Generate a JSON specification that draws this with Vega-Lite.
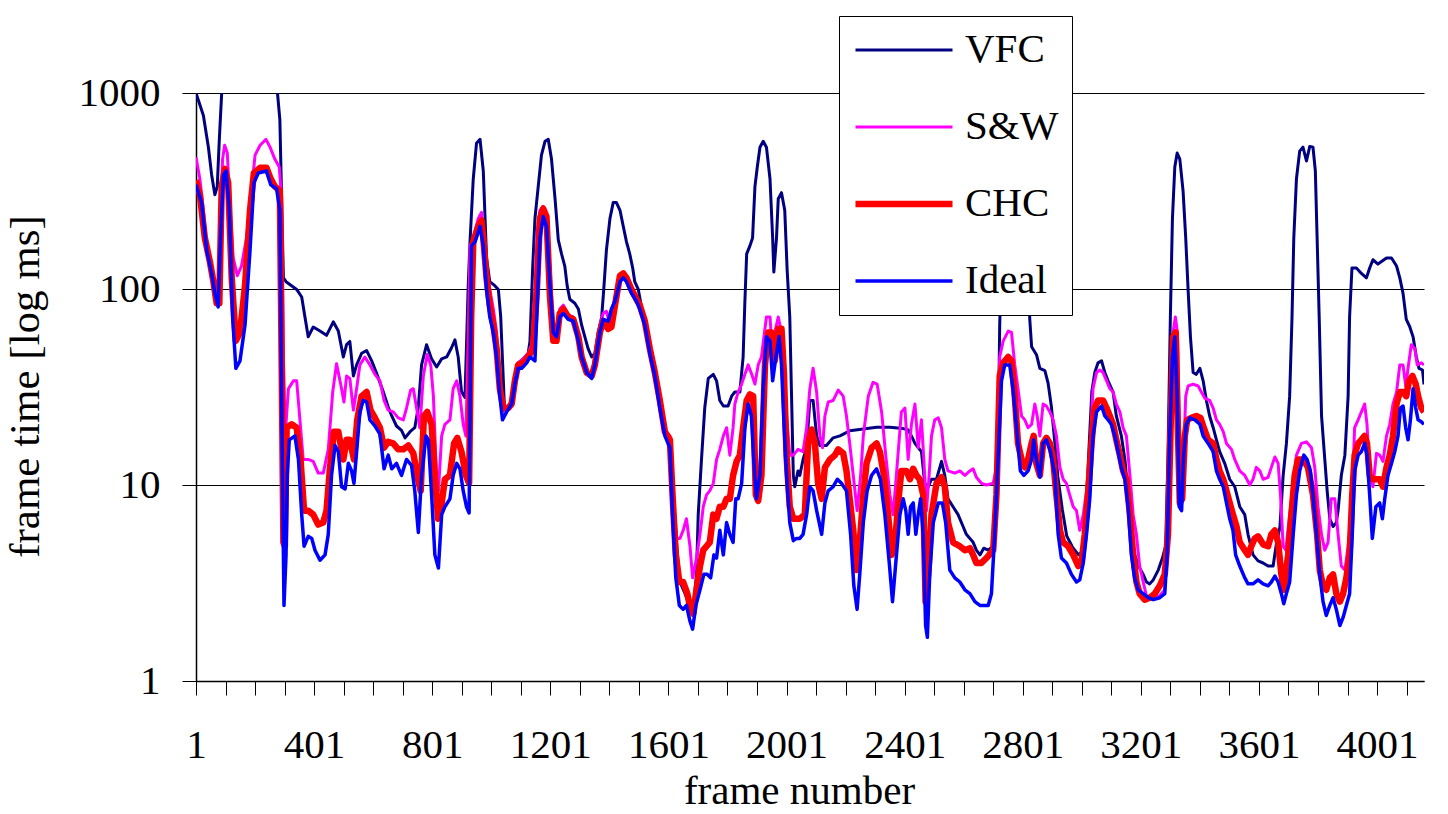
{
"$schema":"https://vega.github.io/schema/vega-lite/v6.json",
"width":1228,"height":588,
"autosize":{"type":"none"},
"padding":{"left":196,"top":93,"right":24,"bottom":133},
"background":"white",
"config":{"view":{"stroke":null},"font":"Liberation Serif"},
"data":{"values":[
{"series":"VFC","frame":1,"ms":1000},{"series":"VFC","frame":26,"ms":767},{"series":"VFC","frame":43,"ms":529},{"series":"VFC","frame":54,"ms":382},{"series":"VFC","frame":65,"ms":303},{"series":"VFC","frame":73,"ms":333},{"series":"VFC","frame":80,"ms":580},{"series":"VFC","frame":88,"ms":1000},{"series":"VFC","frame":96,"ms":2000},{"series":"VFC","frame":180,"ms":2500},{"series":"VFC","frame":260,"ms":2500},{"series":"VFC","frame":277,"ms":1000},{"series":"VFC","frame":285,"ms":732},{"series":"VFC","frame":291,"ms":289},{"series":"VFC","frame":297,"ms":114},{"series":"VFC","frame":306,"ms":109},{"series":"VFC","frame":342,"ms":99.5},{"series":"VFC","frame":359,"ms":91},{"series":"VFC","frame":370,"ms":72},{"series":"VFC","frame":381,"ms":57},{"series":"VFC","frame":398,"ms":64},{"series":"VFC","frame":421,"ms":61},{"series":"VFC","frame":443,"ms":58},{"series":"VFC","frame":466,"ms":68},{"series":"VFC","frame":483,"ms":61},{"series":"VFC","frame":500,"ms":45},{"series":"VFC","frame":511,"ms":52},{"series":"VFC","frame":522,"ms":54},{"series":"VFC","frame":534,"ms":36},{"series":"VFC","frame":545,"ms":41},{"series":"VFC","frame":562,"ms":47},{"series":"VFC","frame":579,"ms":48.5},{"series":"VFC","frame":596,"ms":43},{"series":"VFC","frame":613,"ms":37},{"series":"VFC","frame":635,"ms":30},{"series":"VFC","frame":652,"ms":25},{"series":"VFC","frame":664,"ms":22.5},{"series":"VFC","frame":680,"ms":20},{"series":"VFC","frame":697,"ms":19},{"series":"VFC","frame":709,"ms":17.4},{"series":"VFC","frame":726,"ms":18.7},{"series":"VFC","frame":742,"ms":19.6},{"series":"VFC","frame":754,"ms":25},{"series":"VFC","frame":765,"ms":41},{"series":"VFC","frame":782,"ms":52},{"series":"VFC","frame":799,"ms":44},{"series":"VFC","frame":816,"ms":40},{"series":"VFC","frame":833,"ms":44},{"series":"VFC","frame":850,"ms":45},{"series":"VFC","frame":866,"ms":50},{"series":"VFC","frame":878,"ms":55},{"series":"VFC","frame":889,"ms":45},{"series":"VFC","frame":900,"ms":30},{"series":"VFC","frame":912,"ms":28},{"series":"VFC","frame":923,"ms":104},{"series":"VFC","frame":929,"ms":174},{"series":"VFC","frame":940,"ms":365},{"series":"VFC","frame":951,"ms":554},{"series":"VFC","frame":963,"ms":580},{"series":"VFC","frame":974,"ms":400},{"series":"VFC","frame":985,"ms":144},{"series":"VFC","frame":996,"ms":109},{"series":"VFC","frame":1013,"ms":104},{"series":"VFC","frame":1025,"ms":99.5},{"series":"VFC","frame":1033,"ms":72},{"series":"VFC","frame":1040,"ms":40},{"series":"VFC","frame":1046,"ms":24},{"series":"VFC","frame":1053,"ms":24.5},{"series":"VFC","frame":1070,"ms":26.5},{"series":"VFC","frame":1081,"ms":34},{"series":"VFC","frame":1092,"ms":42},{"series":"VFC","frame":1109,"ms":44},{"series":"VFC","frame":1126,"ms":47},{"series":"VFC","frame":1132,"ms":54},{"series":"VFC","frame":1141,"ms":126},{"series":"VFC","frame":1149,"ms":229},{"series":"VFC","frame":1160,"ms":333},{"series":"VFC","frame":1171,"ms":482},{"series":"VFC","frame":1183,"ms":567},{"series":"VFC","frame":1194,"ms":580},{"series":"VFC","frame":1205,"ms":460},{"series":"VFC","frame":1217,"ms":289},{"series":"VFC","frame":1228,"ms":178},{"series":"VFC","frame":1239,"ms":151},{"series":"VFC","frame":1250,"ms":131},{"series":"VFC","frame":1258,"ms":104},{"series":"VFC","frame":1267,"ms":88.6},{"series":"VFC","frame":1284,"ms":84.6},{"series":"VFC","frame":1296,"ms":79},{"series":"VFC","frame":1307,"ms":65.5},{"series":"VFC","frame":1318,"ms":57},{"series":"VFC","frame":1329,"ms":49.6},{"series":"VFC","frame":1341,"ms":45},{"series":"VFC","frame":1352,"ms":47},{"series":"VFC","frame":1363,"ms":60},{"series":"VFC","frame":1375,"ms":72},{"series":"VFC","frame":1382,"ms":99.5},{"series":"VFC","frame":1391,"ms":158},{"series":"VFC","frame":1403,"ms":229},{"series":"VFC","frame":1414,"ms":276},{"series":"VFC","frame":1425,"ms":276},{"series":"VFC","frame":1437,"ms":252},{"series":"VFC","frame":1448,"ms":209},{"series":"VFC","frame":1459,"ms":174},{"series":"VFC","frame":1470,"ms":151},{"series":"VFC","frame":1480,"ms":128},{"series":"VFC","frame":1487,"ms":109},{"series":"VFC","frame":1499,"ms":99.5},{"series":"VFC","frame":1516,"ms":72},{"series":"VFC","frame":1538,"ms":49.6},{"series":"VFC","frame":1555,"ms":37.5},{"series":"VFC","frame":1572,"ms":27},{"series":"VFC","frame":1589,"ms":19.6},{"series":"VFC","frame":1606,"ms":17},{"series":"VFC","frame":1617,"ms":8.9},{"series":"VFC","frame":1629,"ms":4.9},{"series":"VFC","frame":1640,"ms":3.2},{"series":"VFC","frame":1657,"ms":2.8},{"series":"VFC","frame":1674,"ms":2.4},{"series":"VFC","frame":1685,"ms":2.3},{"series":"VFC","frame":1696,"ms":3.5},{"series":"VFC","frame":1702,"ms":7.1},{"series":"VFC","frame":1713,"ms":13.5},{"series":"VFC","frame":1724,"ms":24.7},{"series":"VFC","frame":1736,"ms":35},{"series":"VFC","frame":1753,"ms":36.7},{"series":"VFC","frame":1764,"ms":34},{"series":"VFC","frame":1775,"ms":27},{"series":"VFC","frame":1787,"ms":25.3},{"series":"VFC","frame":1803,"ms":25.3},{"series":"VFC","frame":1815,"ms":28.4},{"series":"VFC","frame":1826,"ms":29.8},{"series":"VFC","frame":1843,"ms":29.8},{"series":"VFC","frame":1854,"ms":45},{"series":"VFC","frame":1860,"ms":86.6},{"series":"VFC","frame":1866,"ms":151},{"series":"VFC","frame":1877,"ms":166},{"series":"VFC","frame":1886,"ms":182},{"series":"VFC","frame":1894,"ms":333},{"series":"VFC","frame":1902,"ms":419},{"series":"VFC","frame":1911,"ms":529},{"series":"VFC","frame":1922,"ms":567},{"series":"VFC","frame":1933,"ms":529},{"series":"VFC","frame":1945,"ms":365},{"series":"VFC","frame":1954,"ms":182},{"series":"VFC","frame":1958,"ms":122},{"series":"VFC","frame":1967,"ms":182},{"series":"VFC","frame":1973,"ms":289},{"series":"VFC","frame":1984,"ms":310},{"series":"VFC","frame":1995,"ms":252},{"series":"VFC","frame":2003,"ms":126},{"series":"VFC","frame":2012,"ms":72},{"series":"VFC","frame":2018,"ms":28.4},{"series":"VFC","frame":2024,"ms":11.2},{"series":"VFC","frame":2029,"ms":9.8},{"series":"VFC","frame":2040,"ms":11.8},{"series":"VFC","frame":2046,"ms":11.2},{"series":"VFC","frame":2057,"ms":13.5},{"series":"VFC","frame":2069,"ms":15.5},{"series":"VFC","frame":2080,"ms":27},{"series":"VFC","frame":2091,"ms":27},{"series":"VFC","frame":2103,"ms":17.8},{"series":"VFC","frame":2114,"ms":15.9},{"series":"VFC","frame":2136,"ms":15.9},{"series":"VFC","frame":2159,"ms":17.4},{"series":"VFC","frame":2182,"ms":17.8},{"series":"VFC","frame":2215,"ms":18.9},{"series":"VFC","frame":2261,"ms":19.3},{"series":"VFC","frame":2306,"ms":19.7},{"series":"VFC","frame":2351,"ms":19.7},{"series":"VFC","frame":2396,"ms":19.4},{"series":"VFC","frame":2413,"ms":19.1},{"series":"VFC","frame":2424,"ms":17.8},{"series":"VFC","frame":2436,"ms":16.3},{"series":"VFC","frame":2447,"ms":15.5},{"series":"VFC","frame":2458,"ms":14.8},{"series":"VFC","frame":2469,"ms":10.2},{"series":"VFC","frame":2481,"ms":9.8},{"series":"VFC","frame":2492,"ms":10.7},{"series":"VFC","frame":2509,"ms":10.7},{"series":"VFC","frame":2526,"ms":13.2},{"series":"VFC","frame":2537,"ms":11.2},{"series":"VFC","frame":2548,"ms":8.5},{"series":"VFC","frame":2565,"ms":7.75},{"series":"VFC","frame":2582,"ms":7.06},{"series":"VFC","frame":2599,"ms":6.14},{"series":"VFC","frame":2610,"ms":5.6},{"series":"VFC","frame":2622,"ms":5.34},{"series":"VFC","frame":2633,"ms":5.1},{"series":"VFC","frame":2644,"ms":4.65},{"series":"VFC","frame":2656,"ms":4.4},{"series":"VFC","frame":2669,"ms":4.76},{"series":"VFC","frame":2684,"ms":4.65},{"series":"VFC","frame":2701,"ms":4.87},{"series":"VFC","frame":2712,"ms":7.06},{"series":"VFC","frame":2718,"ms":17.8},{"series":"VFC","frame":2723,"ms":65.5},{"series":"VFC","frame":2730,"ms":150},{"series":"VFC","frame":2760,"ms":300},{"series":"VFC","frame":2800,"ms":250},{"series":"VFC","frame":2820,"ms":100},{"series":"VFC","frame":2825,"ms":69.5},{"series":"VFC","frame":2831,"ms":50.8},{"series":"VFC","frame":2848,"ms":46},{"series":"VFC","frame":2859,"ms":39.4},{"series":"VFC","frame":2876,"ms":38.3},{"series":"VFC","frame":2887,"ms":33},{"series":"VFC","frame":2898,"ms":25.1},{"series":"VFC","frame":2910,"ms":16.3},{"series":"VFC","frame":2920,"ms":11},{"series":"VFC","frame":2935,"ms":7.5},{"series":"VFC","frame":2950,"ms":5.5},{"series":"VFC","frame":2970,"ms":4.8},{"series":"VFC","frame":2990,"ms":4.4},{"series":"VFC","frame":3005,"ms":4.6},{"series":"VFC","frame":3015,"ms":7},{"series":"VFC","frame":3025,"ms":15},{"series":"VFC","frame":3035,"ms":30},{"series":"VFC","frame":3045,"ms":37.5},{"series":"VFC","frame":3056,"ms":42},{"series":"VFC","frame":3068,"ms":43},{"series":"VFC","frame":3079,"ms":37.5},{"series":"VFC","frame":3090,"ms":34},{"series":"VFC","frame":3107,"ms":29.8},{"series":"VFC","frame":3118,"ms":22.5},{"series":"VFC","frame":3135,"ms":17.8},{"series":"VFC","frame":3147,"ms":13.5},{"series":"VFC","frame":3158,"ms":8.9},{"series":"VFC","frame":3169,"ms":5.6},{"series":"VFC","frame":3180,"ms":4.4},{"series":"VFC","frame":3197,"ms":3.77},{"series":"VFC","frame":3209,"ms":3.5},{"series":"VFC","frame":3220,"ms":3.2},{"series":"VFC","frame":3231,"ms":3.13},{"series":"VFC","frame":3243,"ms":3.28},{"series":"VFC","frame":3260,"ms":3.68},{"series":"VFC","frame":3274,"ms":4.24},{"series":"VFC","frame":3285,"ms":4.87},{"series":"VFC","frame":3293,"ms":14.2},{"series":"VFC","frame":3301,"ms":72},{"series":"VFC","frame":3308,"ms":229},{"series":"VFC","frame":3316,"ms":419},{"series":"VFC","frame":3324,"ms":494},{"series":"VFC","frame":3333,"ms":460},{"series":"VFC","frame":3344,"ms":317},{"series":"VFC","frame":3353,"ms":182},{"series":"VFC","frame":3361,"ms":99.5},{"series":"VFC","frame":3369,"ms":57},{"series":"VFC","frame":3378,"ms":37.5},{"series":"VFC","frame":3389,"ms":36.7},{"series":"VFC","frame":3401,"ms":39.4},{"series":"VFC","frame":3412,"ms":34},{"series":"VFC","frame":3423,"ms":27},{"series":"VFC","frame":3434,"ms":22.5},{"series":"VFC","frame":3446,"ms":19.6},{"series":"VFC","frame":3457,"ms":17},{"series":"VFC","frame":3468,"ms":14.8},{"series":"VFC","frame":3485,"ms":12.9},{"series":"VFC","frame":3502,"ms":10.7},{"series":"VFC","frame":3519,"ms":9.8},{"series":"VFC","frame":3536,"ms":7.75},{"series":"VFC","frame":3553,"ms":7.06},{"series":"VFC","frame":3564,"ms":5.6},{"series":"VFC","frame":3581,"ms":4.4},{"series":"VFC","frame":3598,"ms":4.1},{"series":"VFC","frame":3615,"ms":4.0},{"series":"VFC","frame":3632,"ms":3.86},{"series":"VFC","frame":3649,"ms":3.86},{"series":"VFC","frame":3660,"ms":5.0},{"series":"VFC","frame":3672,"ms":6.1},{"series":"VFC","frame":3683,"ms":11.2},{"series":"VFC","frame":3694,"ms":16.3},{"series":"VFC","frame":3705,"ms":28.4},{"series":"VFC","frame":3713,"ms":72},{"series":"VFC","frame":3719,"ms":182},{"series":"VFC","frame":3728,"ms":365},{"series":"VFC","frame":3739,"ms":505},{"series":"VFC","frame":3750,"ms":529},{"series":"VFC","frame":3762,"ms":450},{"series":"VFC","frame":3773,"ms":534},{"series":"VFC","frame":3784,"ms":529},{"series":"VFC","frame":3792,"ms":400},{"series":"VFC","frame":3798,"ms":182},{"series":"VFC","frame":3805,"ms":72},{"series":"VFC","frame":3813,"ms":22.5},{"series":"VFC","frame":3824,"ms":13.5},{"series":"VFC","frame":3832,"ms":9.33},{"series":"VFC","frame":3841,"ms":6.73},{"series":"VFC","frame":3852,"ms":6.14},{"series":"VFC","frame":3863,"ms":6.43},{"series":"VFC","frame":3869,"ms":7.4},{"series":"VFC","frame":3880,"ms":11.2},{"series":"VFC","frame":3892,"ms":14.2},{"series":"VFC","frame":3903,"ms":28.4},{"series":"VFC","frame":3908,"ms":72},{"series":"VFC","frame":3916,"ms":128},{"series":"VFC","frame":3931,"ms":128},{"series":"VFC","frame":3948,"ms":120},{"series":"VFC","frame":3965,"ms":114},{"series":"VFC","frame":3976,"ms":128},{"series":"VFC","frame":3987,"ms":141},{"series":"VFC","frame":4004,"ms":134},{"series":"VFC","frame":4016,"ms":138},{"series":"VFC","frame":4033,"ms":144},{"series":"VFC","frame":4050,"ms":144},{"series":"VFC","frame":4067,"ms":131},{"series":"VFC","frame":4078,"ms":114},{"series":"VFC","frame":4089,"ms":95},{"series":"VFC","frame":4100,"ms":70},{"series":"VFC","frame":4112,"ms":64},{"series":"VFC","frame":4123,"ms":57},{"series":"VFC","frame":4134,"ms":45},{"series":"VFC","frame":4143,"ms":39.4},{"series":"VFC","frame":4155,"ms":38.6},{"series":"VFC","frame":4160,"ms":32.6},
{"series":"S&W","frame":1,"ms":470},{"series":"S&W","frame":14,"ms":365},{"series":"S&W","frame":26,"ms":252},{"series":"S&W","frame":37,"ms":166},{"series":"S&W","frame":54,"ms":131},{"series":"S&W","frame":65,"ms":95},{"series":"S&W","frame":76,"ms":84.6},{"series":"S&W","frame":84,"ms":229},{"series":"S&W","frame":91,"ms":460},{"series":"S&W","frame":98,"ms":541},{"series":"S&W","frame":107,"ms":494},{"series":"S&W","frame":116,"ms":264},{"series":"S&W","frame":127,"ms":144},{"series":"S&W","frame":141,"ms":117},{"series":"S&W","frame":155,"ms":131},{"series":"S&W","frame":172,"ms":182},{"series":"S&W","frame":189,"ms":317},{"series":"S&W","frame":201,"ms":482},{"series":"S&W","frame":218,"ms":541},{"series":"S&W","frame":238,"ms":580},{"series":"S&W","frame":252,"ms":529},{"series":"S&W","frame":268,"ms":460},{"series":"S&W","frame":283,"ms":419},{"series":"S&W","frame":291,"ms":289},{"series":"S&W","frame":297,"ms":45},{"series":"S&W","frame":303,"ms":17.8},{"series":"S&W","frame":314,"ms":31},{"series":"S&W","frame":331,"ms":34},{"series":"S&W","frame":342,"ms":34},{"series":"S&W","frame":353,"ms":21.5},{"series":"S&W","frame":364,"ms":13.5},{"series":"S&W","frame":381,"ms":13.5},{"series":"S&W","frame":398,"ms":13.2},{"series":"S&W","frame":415,"ms":11.5},{"series":"S&W","frame":432,"ms":11.5},{"series":"S&W","frame":449,"ms":15.2},{"series":"S&W","frame":464,"ms":29.8},{"series":"S&W","frame":477,"ms":41.6},{"series":"S&W","frame":494,"ms":31},{"series":"S&W","frame":502,"ms":26.5},{"series":"S&W","frame":511,"ms":36},{"series":"S&W","frame":522,"ms":35},{"series":"S&W","frame":534,"ms":24.1},{"series":"S&W","frame":545,"ms":31},{"series":"S&W","frame":556,"ms":41},{"series":"S&W","frame":573,"ms":45},{"series":"S&W","frame":590,"ms":41},{"series":"S&W","frame":607,"ms":36.7},{"series":"S&W","frame":624,"ms":34},{"series":"S&W","frame":638,"ms":27},{"series":"S&W","frame":652,"ms":24.1},{"series":"S&W","frame":669,"ms":23.6},{"series":"S&W","frame":686,"ms":22},{"series":"S&W","frame":703,"ms":21.5},{"series":"S&W","frame":714,"ms":24.7},{"series":"S&W","frame":728,"ms":30.5},{"series":"S&W","frame":737,"ms":31},{"series":"S&W","frame":748,"ms":24.7},{"series":"S&W","frame":759,"ms":19.6},{"series":"S&W","frame":771,"ms":36},{"series":"S&W","frame":784,"ms":46.3},{"series":"S&W","frame":796,"ms":41},{"series":"S&W","frame":805,"ms":28.4},{"series":"S&W","frame":816,"ms":10.7},{"series":"S&W","frame":822,"ms":9.33},{"series":"S&W","frame":833,"ms":17.8},{"series":"S&W","frame":844,"ms":20.4},{"series":"S&W","frame":861,"ms":21.5},{"series":"S&W","frame":872,"ms":31},{"series":"S&W","frame":884,"ms":34},{"series":"S&W","frame":895,"ms":28.4},{"series":"S&W","frame":906,"ms":20.4},{"series":"S&W","frame":915,"ms":17.8},{"series":"S&W","frame":923,"ms":57},{"series":"S&W","frame":929,"ms":166},{"series":"S&W","frame":940,"ms":182},{"series":"S&W","frame":957,"ms":229},{"series":"S&W","frame":968,"ms":246},{"series":"S&W","frame":974,"ms":200},{"series":"S&W","frame":985,"ms":131},{"series":"S&W","frame":996,"ms":99.5},{"series":"S&W","frame":1008,"ms":79},{"series":"S&W","frame":1019,"ms":60},{"series":"S&W","frame":1030,"ms":32.7},{"series":"S&W","frame":1039,"ms":23.6},{"series":"S&W","frame":1053,"ms":24.7},{"series":"S&W","frame":1070,"ms":27},{"series":"S&W","frame":1081,"ms":34},{"series":"S&W","frame":1092,"ms":42},{"series":"S&W","frame":1109,"ms":44},{"series":"S&W","frame":1126,"ms":47},{"series":"S&W","frame":1138,"ms":52},{"series":"S&W","frame":1149,"ms":99.5},{"series":"S&W","frame":1157,"ms":200},{"series":"S&W","frame":1166,"ms":252},{"series":"S&W","frame":1177,"ms":264},{"series":"S&W","frame":1188,"ms":229},{"series":"S&W","frame":1200,"ms":126},{"series":"S&W","frame":1211,"ms":65.5},{"series":"S&W","frame":1222,"ms":60},{"series":"S&W","frame":1233,"ms":79},{"series":"S&W","frame":1245,"ms":82.7},{"series":"S&W","frame":1262,"ms":73.6},{"series":"S&W","frame":1279,"ms":72},{"series":"S&W","frame":1296,"ms":57},{"series":"S&W","frame":1307,"ms":46.3},{"series":"S&W","frame":1324,"ms":37.5},{"series":"S&W","frame":1341,"ms":36},{"series":"S&W","frame":1352,"ms":45},{"series":"S&W","frame":1369,"ms":65.5},{"series":"S&W","frame":1380,"ms":75},{"series":"S&W","frame":1391,"ms":77},{"series":"S&W","frame":1403,"ms":65.5},{"series":"S&W","frame":1414,"ms":82.7},{"series":"S&W","frame":1425,"ms":86.6},{"series":"S&W","frame":1437,"ms":114},{"series":"S&W","frame":1448,"ms":120},{"series":"S&W","frame":1459,"ms":114},{"series":"S&W","frame":1476,"ms":99.5},{"series":"S&W","frame":1493,"ms":88.6},{"series":"S&W","frame":1504,"ms":82.7},{"series":"S&W","frame":1521,"ms":68.6},{"series":"S&W","frame":1538,"ms":49.6},{"series":"S&W","frame":1555,"ms":37.5},{"series":"S&W","frame":1572,"ms":25.9},{"series":"S&W","frame":1589,"ms":18.7},{"series":"S&W","frame":1606,"ms":17.8},{"series":"S&W","frame":1617,"ms":8.9},{"series":"S&W","frame":1629,"ms":5.34},{"series":"S&W","frame":1640,"ms":5.34},{"series":"S&W","frame":1651,"ms":5.87},{"series":"S&W","frame":1662,"ms":6.73},{"series":"S&W","frame":1674,"ms":4.87},{"series":"S&W","frame":1683,"ms":3.36},{"series":"S&W","frame":1696,"ms":4.23},{"series":"S&W","frame":1708,"ms":5.6},{"series":"S&W","frame":1719,"ms":7.75},{"series":"S&W","frame":1730,"ms":8.9},{"series":"S&W","frame":1741,"ms":9.33},{"series":"S&W","frame":1753,"ms":10.2},{"series":"S&W","frame":1764,"ms":13.5},{"series":"S&W","frame":1775,"ms":15.2},{"series":"S&W","frame":1787,"ms":17.8},{"series":"S&W","frame":1798,"ms":19.6},{"series":"S&W","frame":1809,"ms":14.2},{"series":"S&W","frame":1820,"ms":19.6},{"series":"S&W","frame":1826,"ms":25.9},{"series":"S&W","frame":1837,"ms":29.8},{"series":"S&W","frame":1849,"ms":32.7},{"series":"S&W","frame":1860,"ms":36.7},{"series":"S&W","frame":1871,"ms":41},{"series":"S&W","frame":1883,"ms":36.7},{"series":"S&W","frame":1894,"ms":32.7},{"series":"S&W","frame":1905,"ms":41},{"series":"S&W","frame":1916,"ms":45},{"series":"S&W","frame":1933,"ms":72},{"series":"S&W","frame":1945,"ms":72},{"series":"S&W","frame":1954,"ms":45},{"series":"S&W","frame":1961,"ms":60},{"series":"S&W","frame":1973,"ms":72},{"series":"S&W","frame":1984,"ms":60},{"series":"S&W","frame":1992,"ms":41},{"series":"S&W","frame":2001,"ms":22.5},{"series":"S&W","frame":2012,"ms":14.2},{"series":"S&W","frame":2024,"ms":14.2},{"series":"S&W","frame":2040,"ms":15.2},{"series":"S&W","frame":2057,"ms":14.8},{"series":"S&W","frame":2069,"ms":19.6},{"series":"S&W","frame":2080,"ms":31},{"series":"S&W","frame":2091,"ms":39.4},{"series":"S&W","frame":2103,"ms":29.8},{"series":"S&W","frame":2114,"ms":17.8},{"series":"S&W","frame":2123,"ms":15.5},{"series":"S&W","frame":2131,"ms":22.5},{"series":"S&W","frame":2142,"ms":26.5},{"series":"S&W","frame":2159,"ms":27},{"series":"S&W","frame":2176,"ms":30.5},{"series":"S&W","frame":2193,"ms":28.4},{"series":"S&W","frame":2204,"ms":22.5},{"series":"S&W","frame":2215,"ms":16.3},{"series":"S&W","frame":2227,"ms":11.2},{"series":"S&W","frame":2240,"ms":7.4},{"series":"S&W","frame":2252,"ms":11.2},{"series":"S&W","frame":2261,"ms":17.8},{"series":"S&W","frame":2278,"ms":28.4},{"series":"S&W","frame":2294,"ms":33.4},{"series":"S&W","frame":2308,"ms":32.7},{"series":"S&W","frame":2323,"ms":23.6},{"series":"S&W","frame":2337,"ms":14.2},{"series":"S&W","frame":2351,"ms":8.9},{"series":"S&W","frame":2362,"ms":7.06},{"series":"S&W","frame":2373,"ms":11.2},{"series":"S&W","frame":2390,"ms":23.6},{"series":"S&W","frame":2402,"ms":24.7},{"series":"S&W","frame":2413,"ms":13.5},{"series":"S&W","frame":2424,"ms":20.4},{"series":"S&W","frame":2436,"ms":25.9},{"series":"S&W","frame":2447,"ms":15.5},{"series":"S&W","frame":2458,"ms":21.5},{"series":"S&W","frame":2466,"ms":13.5},{"series":"S&W","frame":2475,"ms":7.4},{"series":"S&W","frame":2484,"ms":11.2},{"series":"S&W","frame":2492,"ms":17.8},{"series":"S&W","frame":2503,"ms":21.5},{"series":"S&W","frame":2515,"ms":22},{"series":"S&W","frame":2526,"ms":19.6},{"series":"S&W","frame":2537,"ms":13.5},{"series":"S&W","frame":2548,"ms":11.8},{"series":"S&W","frame":2571,"ms":11.5},{"series":"S&W","frame":2588,"ms":11.8},{"series":"S&W","frame":2605,"ms":11.2},{"series":"S&W","frame":2622,"ms":11.8},{"series":"S&W","frame":2633,"ms":12.1},{"series":"S&W","frame":2644,"ms":10.95},{"series":"S&W","frame":2661,"ms":10.2},{"series":"S&W","frame":2678,"ms":10},{"series":"S&W","frame":2701,"ms":10.2},{"series":"S&W","frame":2712,"ms":12.3},{"series":"S&W","frame":2723,"ms":45},{"series":"S&W","frame":2735,"ms":54.4},{"series":"S&W","frame":2752,"ms":61},{"series":"S&W","frame":2763,"ms":60},{"series":"S&W","frame":2774,"ms":41},{"series":"S&W","frame":2785,"ms":31},{"series":"S&W","frame":2797,"ms":22.5},{"series":"S&W","frame":2808,"ms":21.5},{"series":"S&W","frame":2819,"ms":19.6},{"series":"S&W","frame":2831,"ms":20.4},{"series":"S&W","frame":2842,"ms":25.9},{"series":"S&W","frame":2850,"ms":22.5},{"series":"S&W","frame":2859,"ms":17.8},{"series":"S&W","frame":2870,"ms":25.9},{"series":"S&W","frame":2881,"ms":25.3},{"series":"S&W","frame":2893,"ms":23.6},{"series":"S&W","frame":2904,"ms":21.5},{"series":"S&W","frame":2915,"ms":17.8},{"series":"S&W","frame":2927,"ms":12.3},{"series":"S&W","frame":2938,"ms":10.7},{"series":"S&W","frame":2949,"ms":10.2},{"series":"S&W","frame":2960,"ms":8.9},{"series":"S&W","frame":2972,"ms":7.75},{"series":"S&W","frame":2983,"ms":7.4},{"series":"S&W","frame":2994,"ms":5.87},{"series":"S&W","frame":3006,"ms":7.06},{"series":"S&W","frame":3017,"ms":9.33},{"series":"S&W","frame":3028,"ms":14.2},{"series":"S&W","frame":3039,"ms":31},{"series":"S&W","frame":3051,"ms":37.5},{"series":"S&W","frame":3062,"ms":38.6},{"series":"S&W","frame":3073,"ms":37.5},{"series":"S&W","frame":3085,"ms":34},{"series":"S&W","frame":3096,"ms":31},{"series":"S&W","frame":3107,"ms":29.8},{"series":"S&W","frame":3118,"ms":25.9},{"series":"S&W","frame":3130,"ms":23.6},{"series":"S&W","frame":3141,"ms":19.6},{"series":"S&W","frame":3152,"ms":17.8},{"series":"S&W","frame":3164,"ms":11.2},{"series":"S&W","frame":3175,"ms":7.06},{"series":"S&W","frame":3186,"ms":5.6},{"series":"S&W","frame":3197,"ms":3.86},{"series":"S&W","frame":3209,"ms":3.2},{"series":"S&W","frame":3220,"ms":2.72},{"series":"S&W","frame":3243,"ms":2.66},{"series":"S&W","frame":3265,"ms":2.72},{"series":"S&W","frame":3282,"ms":2.92},{"series":"S&W","frame":3293,"ms":7.06},{"series":"S&W","frame":3301,"ms":28.4},{"series":"S&W","frame":3310,"ms":60},{"series":"S&W","frame":3318,"ms":72},{"series":"S&W","frame":3325,"ms":60},{"series":"S&W","frame":3333,"ms":14.2},{"series":"S&W","frame":3338,"ms":8.9},{"series":"S&W","frame":3346,"ms":14.2},{"series":"S&W","frame":3353,"ms":28.4},{"series":"S&W","frame":3361,"ms":32},{"series":"S&W","frame":3378,"ms":32.7},{"series":"S&W","frame":3395,"ms":32},{"series":"S&W","frame":3406,"ms":29.8},{"series":"S&W","frame":3418,"ms":27.7},{"series":"S&W","frame":3434,"ms":27},{"series":"S&W","frame":3446,"ms":24.7},{"series":"S&W","frame":3457,"ms":21.5},{"series":"S&W","frame":3468,"ms":20.4},{"series":"S&W","frame":3480,"ms":18.7},{"series":"S&W","frame":3491,"ms":16.3},{"series":"S&W","frame":3508,"ms":15.2},{"series":"S&W","frame":3519,"ms":13.5},{"series":"S&W","frame":3536,"ms":11.8},{"series":"S&W","frame":3553,"ms":11.2},{"series":"S&W","frame":3570,"ms":10},{"series":"S&W","frame":3581,"ms":10.7},{"series":"S&W","frame":3592,"ms":12.3},{"series":"S&W","frame":3604,"ms":11.8},{"series":"S&W","frame":3615,"ms":10.7},{"series":"S&W","frame":3632,"ms":10.95},{"series":"S&W","frame":3643,"ms":12.3},{"series":"S&W","frame":3655,"ms":13.9},{"series":"S&W","frame":3666,"ms":12.9},{"series":"S&W","frame":3674,"ms":8.9},{"series":"S&W","frame":3683,"ms":4.87},{"series":"S&W","frame":3692,"ms":4.65},{"series":"S&W","frame":3705,"ms":7.06},{"series":"S&W","frame":3717,"ms":9.8},{"series":"S&W","frame":3728,"ms":14.2},{"series":"S&W","frame":3745,"ms":16.3},{"series":"S&W","frame":3762,"ms":16.6},{"series":"S&W","frame":3779,"ms":15.5},{"series":"S&W","frame":3790,"ms":12.3},{"series":"S&W","frame":3801,"ms":7.75},{"series":"S&W","frame":3813,"ms":5.6},{"series":"S&W","frame":3824,"ms":4.65},{"series":"S&W","frame":3835,"ms":5.1},{"series":"S&W","frame":3846,"ms":8.5},{"series":"S&W","frame":3858,"ms":8.5},{"series":"S&W","frame":3869,"ms":5.6},{"series":"S&W","frame":3880,"ms":3.86},{"series":"S&W","frame":3892,"ms":3.68},{"series":"S&W","frame":3903,"ms":4.87},{"series":"S&W","frame":3914,"ms":7.06},{"series":"S&W","frame":3925,"ms":19.6},{"series":"S&W","frame":3937,"ms":21.5},{"series":"S&W","frame":3948,"ms":23.6},{"series":"S&W","frame":3959,"ms":25.9},{"series":"S&W","frame":3967,"ms":20.4},{"series":"S&W","frame":3976,"ms":11.2},{"series":"S&W","frame":3987,"ms":9.8},{"series":"S&W","frame":3999,"ms":14.5},{"series":"S&W","frame":4010,"ms":14.2},{"series":"S&W","frame":4021,"ms":13.2},{"series":"S&W","frame":4033,"ms":17.8},{"series":"S&W","frame":4044,"ms":20.4},{"series":"S&W","frame":4055,"ms":25.9},{"series":"S&W","frame":4067,"ms":29.8},{"series":"S&W","frame":4078,"ms":41},{"series":"S&W","frame":4089,"ms":41},{"series":"S&W","frame":4098,"ms":32},{"series":"S&W","frame":4106,"ms":39.4},{"series":"S&W","frame":4117,"ms":52},{"series":"S&W","frame":4129,"ms":49.6},{"series":"S&W","frame":4137,"ms":41},{"series":"S&W","frame":4151,"ms":42},{"series":"S&W","frame":4160,"ms":41},
{"series":"CHC","frame":1,"ms":360},{"series":"CHC","frame":14,"ms":303},{"series":"CHC","frame":31,"ms":182},{"series":"CHC","frame":48,"ms":138},{"series":"CHC","frame":60,"ms":109},{"series":"CHC","frame":71,"ms":84.6},{"series":"CHC","frame":80,"ms":84.6},{"series":"CHC","frame":88,"ms":333},{"series":"CHC","frame":99,"ms":410},{"series":"CHC","frame":110,"ms":348},{"series":"CHC","frame":122,"ms":114},{"series":"CHC","frame":136,"ms":54.4},{"series":"CHC","frame":150,"ms":60},{"series":"CHC","frame":167,"ms":104},{"series":"CHC","frame":184,"ms":252},{"series":"CHC","frame":197,"ms":391},{"series":"CHC","frame":218,"ms":415},{"series":"CHC","frame":240,"ms":415},{"series":"CHC","frame":254,"ms":365},{"series":"CHC","frame":268,"ms":333},{"series":"CHC","frame":285,"ms":317},{"series":"CHC","frame":291,"ms":45},{"series":"CHC","frame":297,"ms":5.1},{"series":"CHC","frame":302,"ms":4.87},{"series":"CHC","frame":308,"ms":19.6},{"series":"CHC","frame":325,"ms":20.4},{"series":"CHC","frame":342,"ms":19.6},{"series":"CHC","frame":355,"ms":13.5},{"series":"CHC","frame":367,"ms":7.4},{"series":"CHC","frame":381,"ms":7.4},{"series":"CHC","frame":398,"ms":7.06},{"series":"CHC","frame":415,"ms":6.28},{"series":"CHC","frame":432,"ms":6.43},{"series":"CHC","frame":443,"ms":7.4},{"series":"CHC","frame":455,"ms":12.3},{"series":"CHC","frame":468,"ms":18.7},{"series":"CHC","frame":483,"ms":18.7},{"series":"CHC","frame":500,"ms":13.5},{"series":"CHC","frame":511,"ms":17},{"series":"CHC","frame":522,"ms":17},{"series":"CHC","frame":536,"ms":13.5},{"series":"CHC","frame":547,"ms":21.5},{"series":"CHC","frame":562,"ms":28.4},{"series":"CHC","frame":579,"ms":29.8},{"series":"CHC","frame":592,"ms":24.1},{"series":"CHC","frame":607,"ms":22},{"series":"CHC","frame":624,"ms":19.6},{"series":"CHC","frame":638,"ms":15.5},{"series":"CHC","frame":652,"ms":16.6},{"series":"CHC","frame":669,"ms":16.3},{"series":"CHC","frame":686,"ms":15.2},{"series":"CHC","frame":703,"ms":15.2},{"series":"CHC","frame":720,"ms":15.9},{"series":"CHC","frame":737,"ms":14.5},{"series":"CHC","frame":750,"ms":11.2},{"series":"CHC","frame":762,"ms":9.33},{"series":"CHC","frame":773,"ms":22.5},{"series":"CHC","frame":784,"ms":23.6},{"series":"CHC","frame":799,"ms":20.4},{"series":"CHC","frame":810,"ms":11.2},{"series":"CHC","frame":821,"ms":6.73},{"series":"CHC","frame":833,"ms":8.1},{"series":"CHC","frame":844,"ms":10.7},{"series":"CHC","frame":861,"ms":11.2},{"series":"CHC","frame":875,"ms":16.3},{"series":"CHC","frame":886,"ms":17.4},{"series":"CHC","frame":900,"ms":14.8},{"series":"CHC","frame":915,"ms":11.2},{"series":"CHC","frame":926,"ms":10.2},{"series":"CHC","frame":933,"ms":72},{"series":"CHC","frame":940,"ms":174},{"series":"CHC","frame":957,"ms":209},{"series":"CHC","frame":968,"ms":224},{"series":"CHC","frame":974,"ms":182},{"series":"CHC","frame":985,"ms":114},{"series":"CHC","frame":996,"ms":82.7},{"series":"CHC","frame":1008,"ms":65.5},{"series":"CHC","frame":1019,"ms":49.6},{"series":"CHC","frame":1030,"ms":31},{"series":"CHC","frame":1042,"ms":24.7},{"series":"CHC","frame":1059,"ms":24.7},{"series":"CHC","frame":1070,"ms":25.9},{"series":"CHC","frame":1081,"ms":34},{"series":"CHC","frame":1092,"ms":41},{"series":"CHC","frame":1109,"ms":42},{"series":"CHC","frame":1126,"ms":45},{"series":"CHC","frame":1143,"ms":49.6},{"series":"CHC","frame":1155,"ms":95},{"series":"CHC","frame":1166,"ms":229},{"series":"CHC","frame":1177,"ms":257},{"series":"CHC","frame":1188,"ms":234},{"series":"CHC","frame":1200,"ms":91},{"series":"CHC","frame":1211,"ms":54.4},{"series":"CHC","frame":1222,"ms":54.4},{"series":"CHC","frame":1233,"ms":75},{"series":"CHC","frame":1245,"ms":79},{"series":"CHC","frame":1262,"ms":72},{"series":"CHC","frame":1279,"ms":70},{"series":"CHC","frame":1296,"ms":57},{"series":"CHC","frame":1307,"ms":45},{"series":"CHC","frame":1324,"ms":37.5},{"series":"CHC","frame":1341,"ms":36},{"series":"CHC","frame":1352,"ms":41},{"series":"CHC","frame":1369,"ms":60},{"series":"CHC","frame":1380,"ms":68.6},{"series":"CHC","frame":1397,"ms":62.6},{"series":"CHC","frame":1408,"ms":64},{"series":"CHC","frame":1420,"ms":82.7},{"series":"CHC","frame":1437,"ms":117},{"series":"CHC","frame":1448,"ms":120},{"series":"CHC","frame":1459,"ms":114},{"series":"CHC","frame":1476,"ms":99.5},{"series":"CHC","frame":1493,"ms":88.6},{"series":"CHC","frame":1504,"ms":82.7},{"series":"CHC","frame":1521,"ms":68.6},{"series":"CHC","frame":1538,"ms":49.6},{"series":"CHC","frame":1555,"ms":37.5},{"series":"CHC","frame":1572,"ms":27},{"series":"CHC","frame":1589,"ms":18.7},{"series":"CHC","frame":1606,"ms":17},{"series":"CHC","frame":1615,"ms":8.9},{"series":"CHC","frame":1626,"ms":4.4},{"series":"CHC","frame":1638,"ms":3.2},{"series":"CHC","frame":1651,"ms":3.2},{"series":"CHC","frame":1665,"ms":2.79},{"series":"CHC","frame":1676,"ms":2.32},{"series":"CHC","frame":1685,"ms":2.2},{"series":"CHC","frame":1696,"ms":2.92},{"series":"CHC","frame":1708,"ms":3.86},{"series":"CHC","frame":1719,"ms":4.65},{"series":"CHC","frame":1730,"ms":4.87},{"series":"CHC","frame":1741,"ms":5.1},{"series":"CHC","frame":1753,"ms":7.06},{"series":"CHC","frame":1764,"ms":6.73},{"series":"CHC","frame":1775,"ms":7.75},{"series":"CHC","frame":1787,"ms":7.75},{"series":"CHC","frame":1798,"ms":8.5},{"series":"CHC","frame":1809,"ms":8.5},{"series":"CHC","frame":1820,"ms":11.2},{"series":"CHC","frame":1832,"ms":13.2},{"series":"CHC","frame":1843,"ms":14.2},{"series":"CHC","frame":1854,"ms":19.6},{"series":"CHC","frame":1866,"ms":27},{"series":"CHC","frame":1877,"ms":29},{"series":"CHC","frame":1888,"ms":28.4},{"series":"CHC","frame":1897,"ms":8.9},{"series":"CHC","frame":1905,"ms":8.3},{"series":"CHC","frame":1916,"ms":11.2},{"series":"CHC","frame":1928,"ms":41},{"series":"CHC","frame":1939,"ms":60},{"series":"CHC","frame":1950,"ms":60},{"series":"CHC","frame":1961,"ms":43},{"series":"CHC","frame":1973,"ms":62.6},{"series":"CHC","frame":1984,"ms":62.6},{"series":"CHC","frame":1992,"ms":37.5},{"series":"CHC","frame":2001,"ms":14.2},{"series":"CHC","frame":2012,"ms":7.75},{"series":"CHC","frame":2024,"ms":6.73},{"series":"CHC","frame":2046,"ms":6.73},{"series":"CHC","frame":2063,"ms":7.06},{"series":"CHC","frame":2074,"ms":16.3},{"series":"CHC","frame":2086,"ms":19.2},{"series":"CHC","frame":2097,"ms":16.3},{"series":"CHC","frame":2108,"ms":10.2},{"series":"CHC","frame":2120,"ms":8.5},{"series":"CHC","frame":2131,"ms":12.3},{"series":"CHC","frame":2148,"ms":13.5},{"series":"CHC","frame":2165,"ms":14.2},{"series":"CHC","frame":2176,"ms":15.2},{"series":"CHC","frame":2193,"ms":14.5},{"series":"CHC","frame":2204,"ms":11.8},{"series":"CHC","frame":2215,"ms":8.5},{"series":"CHC","frame":2227,"ms":5.87},{"series":"CHC","frame":2238,"ms":3.68},{"series":"CHC","frame":2249,"ms":5.1},{"series":"CHC","frame":2261,"ms":8.9},{"series":"CHC","frame":2272,"ms":12.9},{"series":"CHC","frame":2289,"ms":15.5},{"series":"CHC","frame":2306,"ms":16.3},{"series":"CHC","frame":2317,"ms":14.8},{"series":"CHC","frame":2331,"ms":11.2},{"series":"CHC","frame":2345,"ms":7.06},{"series":"CHC","frame":2357,"ms":4.4},{"series":"CHC","frame":2368,"ms":4.87},{"series":"CHC","frame":2379,"ms":8.1},{"series":"CHC","frame":2390,"ms":11.8},{"series":"CHC","frame":2407,"ms":11.8},{"series":"CHC","frame":2419,"ms":10.7},{"series":"CHC","frame":2430,"ms":12.1},{"series":"CHC","frame":2441,"ms":11.2},{"series":"CHC","frame":2452,"ms":10.7},{"series":"CHC","frame":2464,"ms":8.9},{"series":"CHC","frame":2472,"ms":2.54},{"series":"CHC","frame":2481,"ms":3.5},{"series":"CHC","frame":2492,"ms":7.06},{"series":"CHC","frame":2509,"ms":10.2},{"series":"CHC","frame":2526,"ms":10.95},{"series":"CHC","frame":2537,"ms":9.8},{"series":"CHC","frame":2548,"ms":6.43},{"series":"CHC","frame":2565,"ms":5.1},{"series":"CHC","frame":2588,"ms":4.87},{"series":"CHC","frame":2605,"ms":4.65},{"series":"CHC","frame":2622,"ms":4.76},{"series":"CHC","frame":2633,"ms":4.4},{"series":"CHC","frame":2644,"ms":4},{"series":"CHC","frame":2661,"ms":4},{"series":"CHC","frame":2678,"ms":4.24},{"series":"CHC","frame":2701,"ms":4.65},{"series":"CHC","frame":2712,"ms":8.9},{"series":"CHC","frame":2723,"ms":36},{"series":"CHC","frame":2735,"ms":42},{"series":"CHC","frame":2752,"ms":45},{"series":"CHC","frame":2763,"ms":43},{"series":"CHC","frame":2774,"ms":28.4},{"series":"CHC","frame":2785,"ms":16.3},{"series":"CHC","frame":2797,"ms":13.5},{"series":"CHC","frame":2808,"ms":12.3},{"series":"CHC","frame":2819,"ms":13.5},{"series":"CHC","frame":2831,"ms":16.3},{"series":"CHC","frame":2838,"ms":17.8},{"series":"CHC","frame":2847,"ms":12.9},{"series":"CHC","frame":2859,"ms":11.2},{"series":"CHC","frame":2870,"ms":16.3},{"series":"CHC","frame":2881,"ms":17.4},{"series":"CHC","frame":2893,"ms":16.3},{"series":"CHC","frame":2904,"ms":13.5},{"series":"CHC","frame":2915,"ms":8.9},{"series":"CHC","frame":2927,"ms":5.87},{"series":"CHC","frame":2938,"ms":5.1},{"series":"CHC","frame":2955,"ms":4.87},{"series":"CHC","frame":2972,"ms":4.4},{"series":"CHC","frame":2989,"ms":3.86},{"series":"CHC","frame":3000,"ms":4},{"series":"CHC","frame":3011,"ms":5.6},{"series":"CHC","frame":3022,"ms":8.9},{"series":"CHC","frame":3034,"ms":16.3},{"series":"CHC","frame":3045,"ms":24.7},{"series":"CHC","frame":3056,"ms":27},{"series":"CHC","frame":3073,"ms":27},{"series":"CHC","frame":3085,"ms":24.7},{"series":"CHC","frame":3096,"ms":22.5},{"series":"CHC","frame":3107,"ms":20.4},{"series":"CHC","frame":3118,"ms":17},{"series":"CHC","frame":3130,"ms":14.2},{"series":"CHC","frame":3141,"ms":11.8},{"series":"CHC","frame":3152,"ms":10.7},{"series":"CHC","frame":3164,"ms":7.06},{"series":"CHC","frame":3175,"ms":4.4},{"series":"CHC","frame":3186,"ms":3.2},{"series":"CHC","frame":3197,"ms":2.79},{"series":"CHC","frame":3214,"ms":2.6},{"series":"CHC","frame":3231,"ms":2.66},{"series":"CHC","frame":3248,"ms":2.79},{"series":"CHC","frame":3265,"ms":3.06},{"series":"CHC","frame":3282,"ms":3.5},{"series":"CHC","frame":3293,"ms":5.6},{"series":"CHC","frame":3301,"ms":17.8},{"series":"CHC","frame":3310,"ms":57},{"series":"CHC","frame":3319,"ms":60},{"series":"CHC","frame":3327,"ms":17.8},{"series":"CHC","frame":3333,"ms":8.1},{"series":"CHC","frame":3341,"ms":8.5},{"series":"CHC","frame":3350,"ms":17.8},{"series":"CHC","frame":3358,"ms":21.5},{"series":"CHC","frame":3372,"ms":22},{"series":"CHC","frame":3389,"ms":22.5},{"series":"CHC","frame":3403,"ms":22},{"series":"CHC","frame":3414,"ms":19.6},{"series":"CHC","frame":3429,"ms":17},{"series":"CHC","frame":3446,"ms":16.3},{"series":"CHC","frame":3457,"ms":13.5},{"series":"CHC","frame":3468,"ms":11.8},{"series":"CHC","frame":3480,"ms":10.7},{"series":"CHC","frame":3491,"ms":9.33},{"series":"CHC","frame":3502,"ms":8.1},{"series":"CHC","frame":3513,"ms":7.06},{"series":"CHC","frame":3525,"ms":6.14},{"series":"CHC","frame":3536,"ms":5.1},{"series":"CHC","frame":3553,"ms":4.65},{"series":"CHC","frame":3564,"ms":4.4},{"series":"CHC","frame":3575,"ms":4.87},{"series":"CHC","frame":3587,"ms":5.34},{"series":"CHC","frame":3598,"ms":5.47},{"series":"CHC","frame":3615,"ms":4.98},{"series":"CHC","frame":3632,"ms":4.87},{"series":"CHC","frame":3643,"ms":5.6},{"series":"CHC","frame":3655,"ms":5.87},{"series":"CHC","frame":3666,"ms":5.1},{"series":"CHC","frame":3677,"ms":3.5},{"series":"CHC","frame":3685,"ms":2.92},{"series":"CHC","frame":3700,"ms":4.4},{"series":"CHC","frame":3711,"ms":7.06},{"series":"CHC","frame":3722,"ms":11.2},{"series":"CHC","frame":3733,"ms":13.5},{"series":"CHC","frame":3750,"ms":13.5},{"series":"CHC","frame":3767,"ms":12.3},{"series":"CHC","frame":3784,"ms":8.9},{"series":"CHC","frame":3798,"ms":5.6},{"series":"CHC","frame":3807,"ms":3.68},{"series":"CHC","frame":3818,"ms":3.06},{"series":"CHC","frame":3829,"ms":2.92},{"series":"CHC","frame":3841,"ms":3.36},{"series":"CHC","frame":3852,"ms":3.5},{"series":"CHC","frame":3863,"ms":2.79},{"series":"CHC","frame":3875,"ms":2.54},{"series":"CHC","frame":3886,"ms":2.79},{"series":"CHC","frame":3897,"ms":3.36},{"series":"CHC","frame":3908,"ms":4.4},{"series":"CHC","frame":3917,"ms":8.9},{"series":"CHC","frame":3925,"ms":14.2},{"series":"CHC","frame":3937,"ms":16.3},{"series":"CHC","frame":3948,"ms":17},{"series":"CHC","frame":3959,"ms":17.8},{"series":"CHC","frame":3967,"ms":16.3},{"series":"CHC","frame":3976,"ms":11.2},{"series":"CHC","frame":3987,"ms":10.7},{"series":"CHC","frame":4010,"ms":10.7},{"series":"CHC","frame":4021,"ms":9.8},{"series":"CHC","frame":4033,"ms":12.3},{"series":"CHC","frame":4044,"ms":14.2},{"series":"CHC","frame":4055,"ms":17.8},{"series":"CHC","frame":4067,"ms":25.9},{"series":"CHC","frame":4078,"ms":29.8},{"series":"CHC","frame":4089,"ms":29.8},{"series":"CHC","frame":4100,"ms":28.4},{"series":"CHC","frame":4109,"ms":34},{"series":"CHC","frame":4121,"ms":36},{"series":"CHC","frame":4132,"ms":32.7},{"series":"CHC","frame":4140,"ms":28.4},{"series":"CHC","frame":4151,"ms":24.7},{"series":"CHC","frame":4160,"ms":23.6},
{"series":"Ideal","frame":1,"ms":340},{"series":"Ideal","frame":20,"ms":276},{"series":"Ideal","frame":37,"ms":158},{"series":"Ideal","frame":54,"ms":120},{"series":"Ideal","frame":65,"ms":95},{"series":"Ideal","frame":76,"ms":81},{"series":"Ideal","frame":84,"ms":182},{"series":"Ideal","frame":94,"ms":382},{"series":"Ideal","frame":103,"ms":400},{"series":"Ideal","frame":114,"ms":252},{"series":"Ideal","frame":125,"ms":72},{"series":"Ideal","frame":136,"ms":39.4},{"series":"Ideal","frame":150,"ms":43},{"series":"Ideal","frame":167,"ms":65.5},{"series":"Ideal","frame":184,"ms":158},{"series":"Ideal","frame":197,"ms":348},{"series":"Ideal","frame":212,"ms":391},{"series":"Ideal","frame":240,"ms":400},{"series":"Ideal","frame":254,"ms":340},{"series":"Ideal","frame":274,"ms":325},{"series":"Ideal","frame":285,"ms":252},{"series":"Ideal","frame":291,"ms":28.4},{"series":"Ideal","frame":299,"ms":2.43},{"series":"Ideal","frame":306,"ms":4.4},{"series":"Ideal","frame":310,"ms":11.2},{"series":"Ideal","frame":317,"ms":17},{"series":"Ideal","frame":336,"ms":17.8},{"series":"Ideal","frame":348,"ms":13.5},{"series":"Ideal","frame":359,"ms":7.06},{"series":"Ideal","frame":367,"ms":4.87},{"series":"Ideal","frame":381,"ms":5.47},{"series":"Ideal","frame":393,"ms":5.34},{"series":"Ideal","frame":404,"ms":4.65},{"series":"Ideal","frame":421,"ms":4.13},{"series":"Ideal","frame":438,"ms":4.4},{"series":"Ideal","frame":449,"ms":5.6},{"series":"Ideal","frame":460,"ms":11.2},{"series":"Ideal","frame":472,"ms":15.9},{"series":"Ideal","frame":483,"ms":14.8},{"series":"Ideal","frame":494,"ms":9.8},{"series":"Ideal","frame":506,"ms":9.55},{"series":"Ideal","frame":517,"ms":12.9},{"series":"Ideal","frame":528,"ms":11.8},{"series":"Ideal","frame":536,"ms":10.2},{"series":"Ideal","frame":545,"ms":14.8},{"series":"Ideal","frame":556,"ms":23.6},{"series":"Ideal","frame":567,"ms":27},{"series":"Ideal","frame":579,"ms":26.5},{"series":"Ideal","frame":590,"ms":21.5},{"series":"Ideal","frame":607,"ms":20},{"series":"Ideal","frame":624,"ms":18.2},{"series":"Ideal","frame":638,"ms":12.1},{"series":"Ideal","frame":652,"ms":14.2},{"series":"Ideal","frame":664,"ms":12.1},{"series":"Ideal","frame":680,"ms":12.9},{"series":"Ideal","frame":697,"ms":11.2},{"series":"Ideal","frame":714,"ms":13.5},{"series":"Ideal","frame":731,"ms":12.6},{"series":"Ideal","frame":742,"ms":9.33},{"series":"Ideal","frame":754,"ms":5.73},{"series":"Ideal","frame":765,"ms":11.2},{"series":"Ideal","frame":780,"ms":17.8},{"series":"Ideal","frame":788,"ms":17},{"series":"Ideal","frame":799,"ms":8.9},{"series":"Ideal","frame":810,"ms":4.4},{"series":"Ideal","frame":822,"ms":3.77},{"series":"Ideal","frame":833,"ms":7.06},{"series":"Ideal","frame":844,"ms":7.75},{"series":"Ideal","frame":861,"ms":8.5},{"series":"Ideal","frame":872,"ms":11.2},{"series":"Ideal","frame":884,"ms":12.9},{"series":"Ideal","frame":895,"ms":12.1},{"series":"Ideal","frame":906,"ms":9.33},{"series":"Ideal","frame":917,"ms":7.75},{"series":"Ideal","frame":926,"ms":7.2},{"series":"Ideal","frame":934,"ms":166},{"series":"Ideal","frame":946,"ms":174},{"series":"Ideal","frame":963,"ms":209},{"series":"Ideal","frame":974,"ms":166},{"series":"Ideal","frame":985,"ms":99.5},{"series":"Ideal","frame":996,"ms":72},{"series":"Ideal","frame":1008,"ms":60},{"series":"Ideal","frame":1019,"ms":45},{"series":"Ideal","frame":1030,"ms":28.4},{"series":"Ideal","frame":1039,"ms":21.5},{"series":"Ideal","frame":1053,"ms":23.6},{"series":"Ideal","frame":1070,"ms":25.9},{"series":"Ideal","frame":1081,"ms":32.7},{"series":"Ideal","frame":1092,"ms":39.4},{"series":"Ideal","frame":1104,"ms":39.4},{"series":"Ideal","frame":1121,"ms":42},{"series":"Ideal","frame":1132,"ms":45},{"series":"Ideal","frame":1149,"ms":43},{"series":"Ideal","frame":1157,"ms":86.6},{"series":"Ideal","frame":1166,"ms":182},{"series":"Ideal","frame":1177,"ms":234},{"series":"Ideal","frame":1188,"ms":209},{"series":"Ideal","frame":1200,"ms":104},{"series":"Ideal","frame":1211,"ms":60},{"series":"Ideal","frame":1222,"ms":57},{"series":"Ideal","frame":1233,"ms":72},{"series":"Ideal","frame":1245,"ms":75},{"series":"Ideal","frame":1262,"ms":70},{"series":"Ideal","frame":1279,"ms":68.6},{"series":"Ideal","frame":1296,"ms":54.4},{"series":"Ideal","frame":1307,"ms":45},{"series":"Ideal","frame":1324,"ms":37.5},{"series":"Ideal","frame":1341,"ms":35},{"series":"Ideal","frame":1352,"ms":41},{"series":"Ideal","frame":1369,"ms":60},{"series":"Ideal","frame":1380,"ms":70},{"series":"Ideal","frame":1397,"ms":68.6},{"series":"Ideal","frame":1408,"ms":79},{"series":"Ideal","frame":1420,"ms":86.6},{"series":"Ideal","frame":1437,"ms":109},{"series":"Ideal","frame":1448,"ms":114},{"series":"Ideal","frame":1459,"ms":109},{"series":"Ideal","frame":1476,"ms":95},{"series":"Ideal","frame":1493,"ms":86.6},{"series":"Ideal","frame":1504,"ms":79},{"series":"Ideal","frame":1521,"ms":65.5},{"series":"Ideal","frame":1538,"ms":47},{"series":"Ideal","frame":1555,"ms":36},{"series":"Ideal","frame":1572,"ms":24.7},{"series":"Ideal","frame":1589,"ms":17.8},{"series":"Ideal","frame":1606,"ms":15.5},{"series":"Ideal","frame":1615,"ms":7.06},{"series":"Ideal","frame":1626,"ms":3.36},{"series":"Ideal","frame":1638,"ms":2.43},{"series":"Ideal","frame":1651,"ms":2.32},{"series":"Ideal","frame":1662,"ms":2.43},{"series":"Ideal","frame":1674,"ms":2.02},{"series":"Ideal","frame":1683,"ms":1.84},{"series":"Ideal","frame":1694,"ms":2.43},{"series":"Ideal","frame":1708,"ms":2.92},{"series":"Ideal","frame":1721,"ms":3.5},{"series":"Ideal","frame":1732,"ms":3.5},{"series":"Ideal","frame":1744,"ms":3.36},{"series":"Ideal","frame":1755,"ms":4.4},{"series":"Ideal","frame":1764,"ms":4.24},{"series":"Ideal","frame":1775,"ms":5.87},{"series":"Ideal","frame":1787,"ms":4.4},{"series":"Ideal","frame":1798,"ms":6.43},{"series":"Ideal","frame":1809,"ms":5.6},{"series":"Ideal","frame":1820,"ms":5.1},{"series":"Ideal","frame":1829,"ms":8.5},{"series":"Ideal","frame":1837,"ms":8.5},{"series":"Ideal","frame":1849,"ms":10.2},{"series":"Ideal","frame":1860,"ms":19.6},{"series":"Ideal","frame":1871,"ms":25.9},{"series":"Ideal","frame":1882,"ms":22.5},{"series":"Ideal","frame":1890,"ms":13.5},{"series":"Ideal","frame":1899,"ms":8.5},{"series":"Ideal","frame":1911,"ms":11.2},{"series":"Ideal","frame":1922,"ms":31},{"series":"Ideal","frame":1933,"ms":57},{"series":"Ideal","frame":1945,"ms":54.4},{"series":"Ideal","frame":1954,"ms":34},{"series":"Ideal","frame":1965,"ms":45},{"series":"Ideal","frame":1976,"ms":57},{"series":"Ideal","frame":1984,"ms":41},{"series":"Ideal","frame":1992,"ms":21.5},{"series":"Ideal","frame":2001,"ms":11.2},{"series":"Ideal","frame":2012,"ms":6.43},{"series":"Ideal","frame":2024,"ms":5.2},{"series":"Ideal","frame":2035,"ms":5.34},{"series":"Ideal","frame":2046,"ms":5.34},{"series":"Ideal","frame":2057,"ms":5.6},{"series":"Ideal","frame":2069,"ms":7.06},{"series":"Ideal","frame":2080,"ms":9.8},{"series":"Ideal","frame":2091,"ms":9.33},{"series":"Ideal","frame":2103,"ms":7.4},{"series":"Ideal","frame":2120,"ms":5.6},{"series":"Ideal","frame":2131,"ms":8.1},{"series":"Ideal","frame":2142,"ms":9.33},{"series":"Ideal","frame":2159,"ms":9.8},{"series":"Ideal","frame":2173,"ms":10.7},{"series":"Ideal","frame":2187,"ms":10.2},{"series":"Ideal","frame":2204,"ms":9.33},{"series":"Ideal","frame":2218,"ms":5.6},{"series":"Ideal","frame":2229,"ms":3.06},{"series":"Ideal","frame":2240,"ms":2.32},{"series":"Ideal","frame":2249,"ms":3.5},{"series":"Ideal","frame":2261,"ms":6.43},{"series":"Ideal","frame":2274,"ms":9.33},{"series":"Ideal","frame":2289,"ms":11.2},{"series":"Ideal","frame":2306,"ms":12.1},{"series":"Ideal","frame":2319,"ms":10.7},{"series":"Ideal","frame":2334,"ms":7.06},{"series":"Ideal","frame":2349,"ms":4},{"series":"Ideal","frame":2360,"ms":2.54},{"series":"Ideal","frame":2371,"ms":4},{"series":"Ideal","frame":2385,"ms":7.06},{"series":"Ideal","frame":2396,"ms":8.5},{"series":"Ideal","frame":2405,"ms":7.4},{"series":"Ideal","frame":2413,"ms":5.6},{"series":"Ideal","frame":2421,"ms":7.75},{"series":"Ideal","frame":2430,"ms":8.1},{"series":"Ideal","frame":2439,"ms":5.6},{"series":"Ideal","frame":2447,"ms":7.06},{"series":"Ideal","frame":2455,"ms":8.5},{"series":"Ideal","frame":2464,"ms":5.6},{"series":"Ideal","frame":2472,"ms":1.92},{"series":"Ideal","frame":2478,"ms":1.67},{"series":"Ideal","frame":2486,"ms":3.5},{"series":"Ideal","frame":2498,"ms":6.43},{"series":"Ideal","frame":2515,"ms":8.1},{"series":"Ideal","frame":2529,"ms":8.1},{"series":"Ideal","frame":2540,"ms":6.43},{"series":"Ideal","frame":2554,"ms":3.68},{"series":"Ideal","frame":2571,"ms":3.36},{"series":"Ideal","frame":2588,"ms":3.2},{"series":"Ideal","frame":2605,"ms":2.92},{"series":"Ideal","frame":2622,"ms":2.79},{"series":"Ideal","frame":2639,"ms":2.54},{"series":"Ideal","frame":2656,"ms":2.43},{"series":"Ideal","frame":2684,"ms":2.43},{"series":"Ideal","frame":2695,"ms":2.79},{"series":"Ideal","frame":2706,"ms":5.6},{"series":"Ideal","frame":2718,"ms":14.2},{"series":"Ideal","frame":2729,"ms":34},{"series":"Ideal","frame":2740,"ms":41},{"series":"Ideal","frame":2757,"ms":41},{"series":"Ideal","frame":2768,"ms":31},{"series":"Ideal","frame":2780,"ms":19.6},{"series":"Ideal","frame":2793,"ms":11.8},{"series":"Ideal","frame":2805,"ms":11.2},{"series":"Ideal","frame":2819,"ms":11.8},{"series":"Ideal","frame":2831,"ms":13.5},{"series":"Ideal","frame":2838,"ms":17},{"series":"Ideal","frame":2847,"ms":13.5},{"series":"Ideal","frame":2859,"ms":10.95},{"series":"Ideal","frame":2870,"ms":16.3},{"series":"Ideal","frame":2881,"ms":17},{"series":"Ideal","frame":2895,"ms":14.8},{"series":"Ideal","frame":2910,"ms":11.2},{"series":"Ideal","frame":2921,"ms":5.6},{"series":"Ideal","frame":2932,"ms":4.24},{"series":"Ideal","frame":2949,"ms":4},{"series":"Ideal","frame":2966,"ms":3.5},{"series":"Ideal","frame":2983,"ms":3.2},{"series":"Ideal","frame":2994,"ms":3.28},{"series":"Ideal","frame":3006,"ms":4},{"series":"Ideal","frame":3017,"ms":5.6},{"series":"Ideal","frame":3028,"ms":8.5},{"series":"Ideal","frame":3039,"ms":17.8},{"series":"Ideal","frame":3051,"ms":23.6},{"series":"Ideal","frame":3068,"ms":25.3},{"series":"Ideal","frame":3079,"ms":22.5},{"series":"Ideal","frame":3090,"ms":21.5},{"series":"Ideal","frame":3101,"ms":20.4},{"series":"Ideal","frame":3113,"ms":17.8},{"series":"Ideal","frame":3124,"ms":14.8},{"series":"Ideal","frame":3135,"ms":12.3},{"series":"Ideal","frame":3147,"ms":10.7},{"series":"Ideal","frame":3158,"ms":7.75},{"series":"Ideal","frame":3169,"ms":4.4},{"series":"Ideal","frame":3180,"ms":3.36},{"series":"Ideal","frame":3192,"ms":2.92},{"series":"Ideal","frame":3209,"ms":2.79},{"series":"Ideal","frame":3226,"ms":2.66},{"series":"Ideal","frame":3243,"ms":2.6},{"series":"Ideal","frame":3265,"ms":2.66},{"series":"Ideal","frame":3282,"ms":2.79},{"series":"Ideal","frame":3290,"ms":4.4},{"series":"Ideal","frame":3299,"ms":17.8},{"series":"Ideal","frame":3308,"ms":45},{"series":"Ideal","frame":3316,"ms":57},{"series":"Ideal","frame":3324,"ms":28.4},{"series":"Ideal","frame":3331,"ms":7.75},{"series":"Ideal","frame":3339,"ms":7.4},{"series":"Ideal","frame":3346,"ms":14.2},{"series":"Ideal","frame":3355,"ms":20.4},{"series":"Ideal","frame":3367,"ms":22},{"series":"Ideal","frame":3384,"ms":21.5},{"series":"Ideal","frame":3401,"ms":20.4},{"series":"Ideal","frame":3412,"ms":17.8},{"series":"Ideal","frame":3429,"ms":16.3},{"series":"Ideal","frame":3446,"ms":14.8},{"series":"Ideal","frame":3457,"ms":11.8},{"series":"Ideal","frame":3468,"ms":10.7},{"series":"Ideal","frame":3480,"ms":9.8},{"series":"Ideal","frame":3491,"ms":8.1},{"series":"Ideal","frame":3502,"ms":6.73},{"series":"Ideal","frame":3513,"ms":5.87},{"series":"Ideal","frame":3522,"ms":4.4},{"series":"Ideal","frame":3536,"ms":3.86},{"series":"Ideal","frame":3553,"ms":3.36},{"series":"Ideal","frame":3564,"ms":3.13},{"series":"Ideal","frame":3581,"ms":3.13},{"series":"Ideal","frame":3598,"ms":3.28},{"series":"Ideal","frame":3615,"ms":3.13},{"series":"Ideal","frame":3632,"ms":3.06},{"series":"Ideal","frame":3643,"ms":3.2},{"series":"Ideal","frame":3655,"ms":3.43},{"series":"Ideal","frame":3666,"ms":3.2},{"series":"Ideal","frame":3677,"ms":2.79},{"series":"Ideal","frame":3685,"ms":2.48},{"series":"Ideal","frame":3694,"ms":2.79},{"series":"Ideal","frame":3705,"ms":3.2},{"series":"Ideal","frame":3717,"ms":5.6},{"series":"Ideal","frame":3728,"ms":8.9},{"series":"Ideal","frame":3739,"ms":11.8},{"series":"Ideal","frame":3753,"ms":14.2},{"series":"Ideal","frame":3764,"ms":13.5},{"series":"Ideal","frame":3775,"ms":11.8},{"series":"Ideal","frame":3784,"ms":8.9},{"series":"Ideal","frame":3796,"ms":5.6},{"series":"Ideal","frame":3807,"ms":3.5},{"series":"Ideal","frame":3818,"ms":2.54},{"series":"Ideal","frame":3829,"ms":2.16},{"series":"Ideal","frame":3841,"ms":2.43},{"series":"Ideal","frame":3852,"ms":2.66},{"series":"Ideal","frame":3863,"ms":2.32},{"series":"Ideal","frame":3875,"ms":1.92},{"series":"Ideal","frame":3886,"ms":2.11},{"series":"Ideal","frame":3897,"ms":2.43},{"series":"Ideal","frame":3908,"ms":2.79},{"series":"Ideal","frame":3917,"ms":5.6},{"series":"Ideal","frame":3925,"ms":11.8},{"series":"Ideal","frame":3937,"ms":14.2},{"series":"Ideal","frame":3948,"ms":14.8},{"series":"Ideal","frame":3959,"ms":16.3},{"series":"Ideal","frame":3967,"ms":14.2},{"series":"Ideal","frame":3976,"ms":8.9},{"series":"Ideal","frame":3985,"ms":5.34},{"series":"Ideal","frame":3997,"ms":7.75},{"series":"Ideal","frame":4010,"ms":8.1},{"series":"Ideal","frame":4019,"ms":6.73},{"series":"Ideal","frame":4027,"ms":8.5},{"series":"Ideal","frame":4038,"ms":11.2},{"series":"Ideal","frame":4050,"ms":12.9},{"series":"Ideal","frame":4061,"ms":14.8},{"series":"Ideal","frame":4072,"ms":17.8},{"series":"Ideal","frame":4080,"ms":24.7},{"series":"Ideal","frame":4089,"ms":25.3},{"series":"Ideal","frame":4098,"ms":19.6},{"series":"Ideal","frame":4106,"ms":17},{"series":"Ideal","frame":4114,"ms":21.5},{"series":"Ideal","frame":4123,"ms":31},{"series":"Ideal","frame":4132,"ms":24.7},{"series":"Ideal","frame":4140,"ms":21.5},{"series":"Ideal","frame":4151,"ms":21},{"series":"Ideal","frame":4160,"ms":20.4}
]},
"mark":{"type":"line","clip":true,"strokeJoin":"round"},
"encoding":{
"x":{"field":"frame","type":"quantitative","scale":{"domain":[1,4160],"nice":false,"zero":false},
 "axis":{"values":[1,101,201,301,401,501,601,701,801,901,1001,1101,1201,1301,1401,1501,1601,1701,1801,1901,2001,2101,2201,2301,2401,2501,2601,2701,2801,2901,3001,3101,3201,3301,3401,3501,3601,3701,3801,3901,4001,4101],
 "labelExpr":"(datum.value - 1) % 400 === 0 ? datum.label : ''","format":"d","grid":false,
 "domainColor":"black","domainWidth":1.5,"tickColor":"black","tickSize":14,"tickWidth":1,
 "labelFont":"Liberation Serif","labelFontSize":41,"labelColor":"black","labelPadding":30,"labelFlush":false,"labelOverlap":false,
 "title":"frame number","titleFont":"Liberation Serif","titleFontSize":41,"titleFontWeight":"normal","titleColor":"black","titleX":603,"titleY":122,"titleBaseline":"alphabetic","titleAlign":"center"}},
"y":{"field":"ms","type":"quantitative","scale":{"type":"log","domain":[1,1000],"nice":false},
 "axis":{"values":[1,10,100,1000],"format":"d","grid":true,"gridColor":"black","gridWidth":1,"gridOpacity":1,
 "domainColor":"black","domainWidth":1.5,"tickColor":"black","tickSize":14,"tickWidth":1,
 "labelFont":"Liberation Serif","labelFontSize":41,"labelColor":"black","labelPadding":22,
 "title":"frame time [log ms]","titleFont":"Liberation Serif","titleFontSize":43,"titleFontWeight":"normal","titleColor":"black","titleAngle":-90,"titleX":-158,"titleY":293,"titleBaseline":"alphabetic","titleAlign":"center"}},
"color":{"field":"series","type":"nominal","scale":{"domain":["VFC","S&W","CHC","Ideal"],"range":["#000080","#FF00FF","#FF0000","#0000FF"]},
 "legend":{"title":null,"orient":"none","legendX":643,"legendY":-77,"fillColor":"white","strokeColor":"black","padding":13,"symbolType":"stroke","symbolSize":9409,"clipHeight":42,"labelFont":"Liberation Serif","labelFontSize":41,"labelColor":"black","labelOffset":9,"rowPadding":35}},
"strokeWidth":{"field":"series","type":"ordinal","scale":{"type":"ordinal","domain":["VFC","S&W","CHC","Ideal"],"range":[3,3,6.5,3.5]},
 "legend":{"title":null,"orient":"none","legendX":643,"legendY":-77,"fillColor":"white","strokeColor":"black","padding":13,"symbolType":"stroke","symbolSize":9409,"clipHeight":42,"labelFont":"Liberation Serif","labelFontSize":41,"labelColor":"black","labelOffset":9,"rowPadding":35}}
}
}
